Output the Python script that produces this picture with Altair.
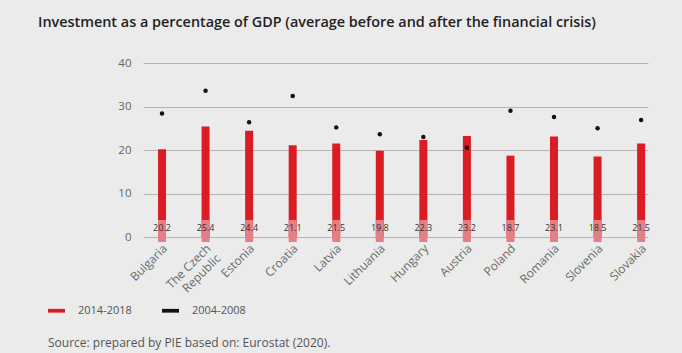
import altair as alt
import pandas as pd

countries = ["Bulgaria", "The Czech Republic", "Estonia", "Croatia", "Latvia", "Lithuania",
             "Hungary", "Austria", "Poland", "Romania", "Slovenia", "Slovakia"]
after = [20.2, 25.4, 24.4, 21.1, 21.5, 19.8, 22.3, 23.2, 18.7, 23.1, 18.5, 21.5]
before = [28.4, 33.6, 26.4, 32.4, 25.2, 23.6, 23.0, 20.5, 29.0, 27.6, 25.0, 26.9]
series = ["2014-2018", "2004-2008"]
colors = ["#dc1c24", "#111111"]
title_text = "Investment as a percentage of GDP (average before and after the financial crisis)"
source_text = "Source: prepared by PIE based on: Eurostat (2020)."

bars = pd.DataFrame({"country": countries, "value": after, "series": series[0]})
dots = pd.DataFrame({"country": countries, "value": before, "series": series[1]})

W, H = 505, 174
FONT = "Open Sans"

xscale = alt.Scale(paddingInner=0.815, paddingOuter=0.205, align=0.84)
xenc = alt.X("country:N", sort=countries, title=None, scale=xscale,
             axis=alt.Axis(labelAngle=-45, labelAlign="right", labelBaseline="middle",
                           labelFontSize=12, labelColor="#6a6a6a", labelFont=FONT,
                           labelPadding=9, labelOffset=3, ticks=False, domain=False, grid=False,
                           labelExpr="datum.label == 'The Czech Republic' ? ['The Czech', 'Republic'] : datum.label"))
yenc = alt.Y("value:Q", title=None, scale=alt.Scale(domain=[0, 40]),
             axis=alt.Axis(values=[0, 10, 20, 30, 40], labelFontSize=11.5, labelColor="#666666",
                           labelFont=FONT, labelPadding=12, ticks=False, domain=False,
                           gridColor="#b4b4b4", gridWidth=1.2))
color = alt.Color("series:N", scale=alt.Scale(domain=series, range=colors),
                  legend=alt.Legend(orient="none", legendX=-95, legendY=239, direction="horizontal",
                                    title=None, symbolType="M-1,-0.22L1,-0.22L1,0.22L-1,0.22Z",
                                    symbolSize=289, labelFontSize=11, labelFont=FONT,
                                    labelColor="#555555", columnPadding=30, labelOffset=13,
                                    symbolStrokeWidth=0, padding=0))

bar = alt.Chart(bars).mark_bar(size=8).encode(x=xenc, y=yenc, color=color)
halo = alt.Chart(bars).mark_bar(size=8, color="#e57f86").encode(
    x=alt.X("country:N", sort=countries), y=alt.datum(-1.15), y2=alt.datum(3.9))
pts = alt.Chart(dots).mark_point(filled=True, size=20, opacity=1).encode(x=xenc, y="value:Q", color=color)
vals = alt.Chart(bars).mark_text(fontSize=9, font=FONT, color="#333333", dy=-9).encode(
    x=alt.X("country:N", sort=countries), y=alt.datum(0), text=alt.Text("value:Q", format=".1f"))

tdf = pd.DataFrame({"t": [title_text]})
title = alt.Chart(tdf).mark_text(align="left", baseline="alphabetic", fontSize=14.4, font=FONT,
                                 fontWeight=600, color="#222222").encode(
    x=alt.value(-105), y=alt.value(-36), text="t:N")
sdf = pd.DataFrame({"t": [source_text]})
source = alt.Chart(sdf).mark_text(align="left", baseline="alphabetic", fontSize=12, font=FONT,
                                  color="#555555").encode(
    x=alt.value(-95), y=alt.value(284), text="t:N")

chart = alt.layer(bar, halo, pts, vals, title, source).properties(
    width=W, height=H,
    autosize=alt.AutoSizeParams(type="none"),
    padding={"left": 143, "top": 63, "right": 34, "bottom": 116},
    background="#ebebeb",
).configure_view(stroke=None)

chart.save("out.html", embed_options={"renderer": "svg", "actions": False})
